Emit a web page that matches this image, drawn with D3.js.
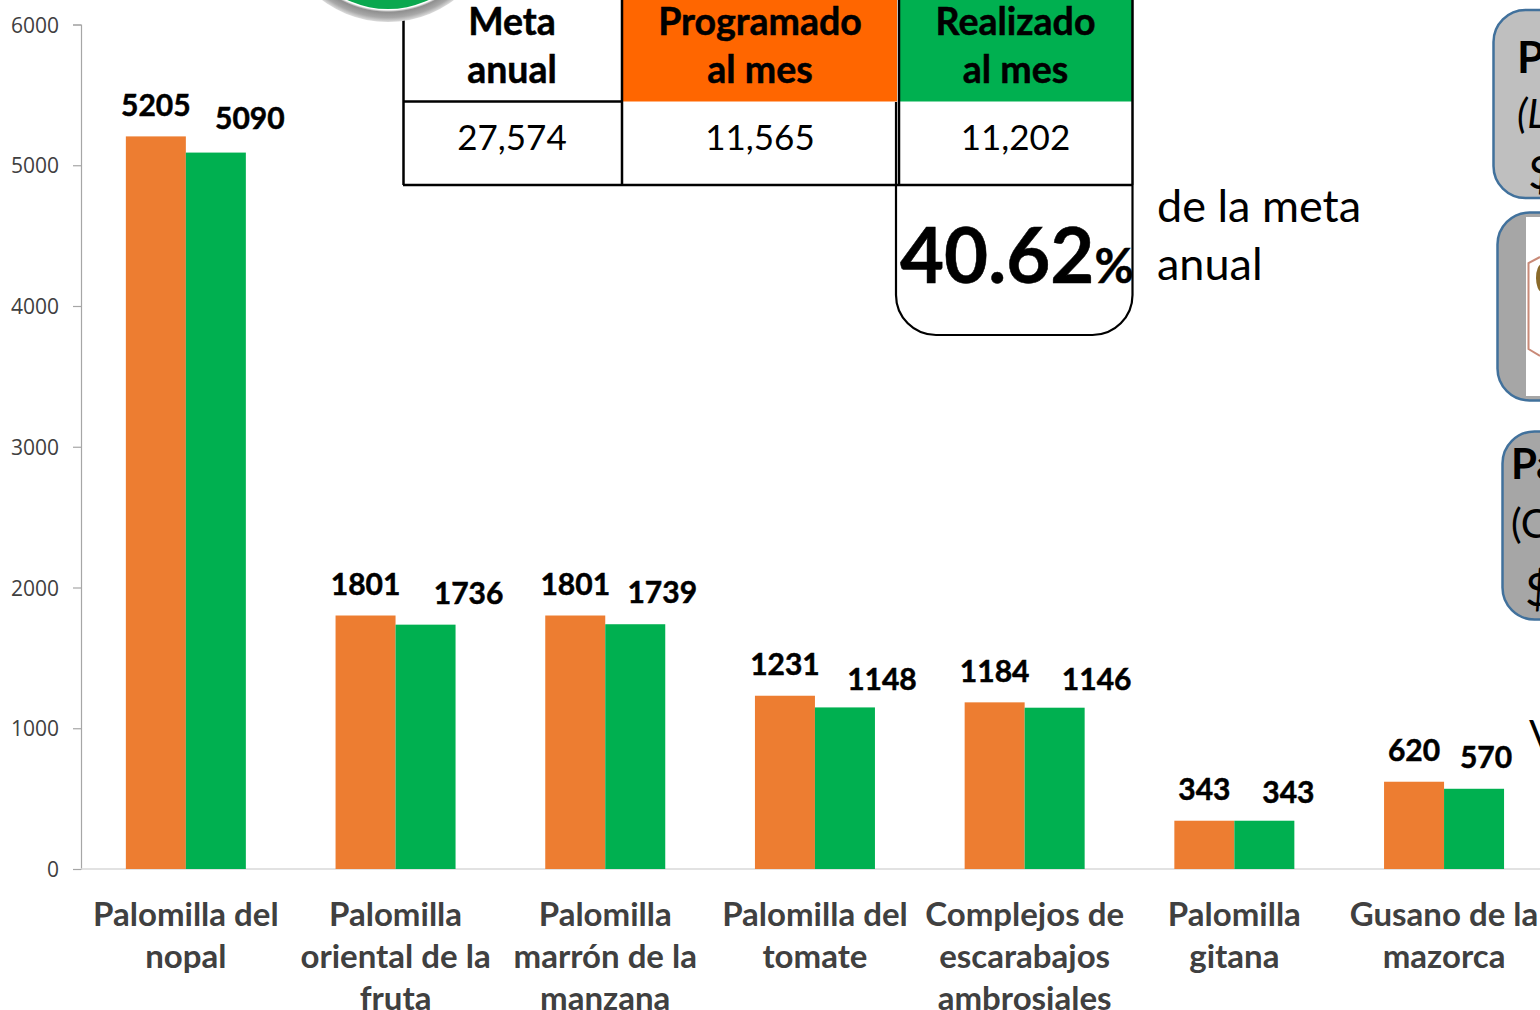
<!DOCTYPE html>
<html>
<head>
<meta charset="utf-8">
<style>
  html, body { margin: 0; padding: 0; background: #fff; overflow: hidden; }
  text { font-family: Lato, "Open Sans", sans-serif; }
  .heavy { stroke: currentColor; stroke-width: 0.5px; }
</style>
<script src="https://cdn.jsdelivr.net/npm/d3@7"></script>
</head>
<body>
<svg id="chart" width="1540" height="1010">
  <defs>
    <radialGradient id="ring" gradientUnits="userSpaceOnUse" cx="388" cy="-88" r="110">
      <stop offset="0.89" stop-color="#ffffff"></stop>
      <stop offset="0.91" stop-color="#8f8f8f"></stop>
      <stop offset="0.96" stop-color="#a8a8a8"></stop>
      <stop offset="1" stop-color="#dcdcdc"></stop>
    </radialGradient>
    <clipPath id="box1"><rect x="1493.5" y="10" width="120" height="188" rx="32"></rect></clipPath>
    <clipPath id="box3"><rect x="1502.5" y="431.5" width="120" height="188" rx="32"></rect></clipPath>
  </defs>
</svg>
<script>
const categories = [
  ["Palomilla del", "nopal"],
  ["Palomilla", "oriental de la", "fruta"],
  ["Palomilla", "marrón de la", "manzana"],
  ["Palomilla del", "tomate"],
  ["Complejos de", "escarabajos", "ambrosiales"],
  ["Palomilla", "gitana"],
  ["Gusano de la", "mazorca"]
];
const programado = [5205, 1801, 1801, 1231, 1184, 343, 620];
const realizado = [5090, 1736, 1739, 1148, 1146, 343, 570];
const yTicks = [0, 1000, 2000, 3000, 4000, 5000, 6000];

const tableHeaders = [["Meta", "anual"], ["Programado", "al mes"], ["Realizado", "al mes"]];
const tableValues = ["27,574", "11,565", "11,202"];

// hand placed in the original slide, relative to top of each green bar
const greenLabelDx = [34, 43, 27, 37, 42, 24, 12];
const greenLabelDy = [24, 21, 21, 17, 18, 18, 21];

const orange = "#ed7d31";
const green = "#00b050";

const svg = d3.select("#chart");

const x0 = d3.scaleBand()
  .domain(d3.range(categories.length))
  .range([81, 81 + 209.7 * categories.length]);
const x1 = d3.scaleBand()
  .domain(["programado", "realizado"])
  .range([x0.bandwidth() / 2 - 60, x0.bandwidth() / 2 + 60]);
const y = d3.scaleLinear().domain([0, 6000]).range([869, 24.5]);

// y axis
const yAxis = svg.append("g")
  .attr("transform", "translate(81,0)")
  .call(d3.axisLeft(y).tickValues(yTicks).tickFormat(d3.format("d")).tickSize(8).tickPadding(14));
yAxis.selectAll("line, path").attr("stroke", "#a6a6a6").attr("stroke-width", 1.2);
yAxis.selectAll("text")
  .attr("y", 1)
  .style("font-family", "'Open Sans', sans-serif")
  .style("font-size", "21px")
  .attr("fill", "#404040");

// baseline
svg.append("line")
  .attr("x1", 81).attr("x2", 1540)
  .attr("y1", y(0)).attr("y2", y(0))
  .attr("stroke", "#d9d9d9").attr("stroke-width", 1.5);

// bars
const groups = svg.selectAll(".group")
  .data(categories)
  .enter()
  .append("g")
  .attr("class", "group")
  .attr("transform", (d, i) => "translate(" + x0(i) + ",0)");

groups.append("rect")
  .attr("x", x1("programado"))
  .attr("width", x1.bandwidth())
  .attr("y", (d, i) => y(programado[i]))
  .attr("height", (d, i) => y(0) - y(programado[i]))
  .attr("fill", orange);

groups.append("rect")
  .attr("x", x1("realizado"))
  .attr("width", x1.bandwidth())
  .attr("y", (d, i) => y(realizado[i]))
  .attr("height", (d, i) => y(0) - y(realizado[i]))
  .attr("fill", green);

// value labels
groups.append("text")
  .attr("class", "heavy")
  .attr("x", x1("programado") + x1.bandwidth() / 2)
  .attr("y", (d, i) => y(programado[i]) - 20.5)
  .attr("text-anchor", "middle")
  .attr("font-size", 30)
  .attr("font-weight", 700)
  .style("color", "#000")
  .attr("fill", "#000")
  .text((d, i) => programado[i]);

groups.append("text")
  .attr("class", "heavy")
  .attr("x", (d, i) => x1("realizado") + x1.bandwidth() / 2 + greenLabelDx[i])
  .attr("y", (d, i) => y(realizado[i]) - greenLabelDy[i])
  .attr("text-anchor", "middle")
  .attr("font-size", 30)
  .attr("font-weight", 700)
  .style("color", "#000")
  .attr("fill", "#000")
  .text((d, i) => realizado[i]);

// category labels
groups.append("text")
  .attr("text-anchor", "middle")
  .attr("font-size", 33)
  .attr("font-weight", 700)
  .attr("fill", "#404040")
  .each(function(d) {
    d3.select(this).selectAll("tspan")
      .data(d)
      .enter()
      .append("tspan")
      .attr("x", x0.bandwidth() / 2)
      .attr("y", (line, j) => 926 + j * 42)
      .text(line => line);
  });

// table
const headFill = [null, "#ff6600", green];
const table = svg.append("g");

table.append("rect")
  .attr("x", 622).attr("y", 0).attr("width", 275).attr("height", 101.5)
  .attr("fill", headFill[1]);
table.append("rect")
  .attr("x", 899).attr("y", 0).attr("width", 233).attr("height", 101.5)
  .attr("fill", headFill[2]);

table.append("path")
  .attr("d", "M403.5 0V185M622 0V185M899 0V185M1132.5 0V185M403 101.5H622M403 185H1133")
  .attr("fill", "none").attr("stroke", "#000").attr("stroke-width", 2.5);

// rounded box under the last column, its left side runs up the data row
table.append("path")
  .attr("d", "M896 102V295A40 40 0 0 0 936 335H1092.5A40 40 0 0 0 1132.5 295V185")
  .attr("fill", "none").attr("stroke", "#000").attr("stroke-width", 2.2);

const colCentres = [512, 760, 1015.5];
tableHeaders.forEach(function(lines, i) {
  lines.forEach(function(line, j) {
    table.append("text")
      .attr("class", "heavy")
      .attr("x", colCentres[i]).attr("y", 35 + j * 48)
      .attr("text-anchor", "middle")
      .attr("font-size", 37.5)
      .attr("font-weight", 700)
      .style("color", "#000")
      .attr("fill", "#000")
      .text(line);
  });
  table.append("text")
    .attr("x", colCentres[i]).attr("y", 150)
    .attr("text-anchor", "middle")
    .attr("font-size", 35)
    .attr("fill", "#000")
    .text(tableValues[i]);
});

const pct = table.append("text")
  .attr("class", "heavy")
  .attr("x", 900).attr("y", 283)
  .attr("font-weight", 700)
  .style("color", "#000")
  .attr("fill", "#000");
pct.append("tspan").attr("font-size", 76).text("40.62");
pct.append("tspan").attr("font-size", 48).text("%");

["de la meta", "anual"].forEach(function(line, j) {
  table.append("text")
    .attr("x", 1157).attr("y", 222 + j * 58)
    .attr("font-size", 45)
    .attr("fill", "#000")
    .text(line);
});

// gauge cut off by the top of the slide, sits over the table corner
svg.append("circle").attr("cx", 388).attr("cy", -88).attr("r", 110).attr("fill", "url(#ring)");
svg.append("circle").attr("cx", 388).attr("cy", -88).attr("r", 97).attr("fill", "#0aa84f");

// boxes cut off at the right edge
const side = svg.append("g");
function sideBox(left, top, fill) {
  side.append("rect")
    .attr("x", left).attr("y", top)
    .attr("width", 120).attr("height", 188)
    .attr("rx", 32)
    .attr("fill", fill)
    .attr("stroke", "#41719c").attr("stroke-width", 2.5);
}
sideBox(1493.5, 10, "#bfbfbf");
sideBox(1497.5, 212.5, "#a6a6a6");
sideBox(1502.5, 431.5, "#a6a6a6");

// picture inside the second box
side.append("rect").attr("x", 1526).attr("y", 217).attr("width", 14).attr("height", 179).attr("fill", "#fff");
side.append("path")
  .attr("d", "M1540 257L1528.5 263V349L1540 356")
  .attr("fill", "none").attr("stroke", "#c98a78").attr("stroke-width", 2);
side.append("ellipse").attr("cx", 1542).attr("cy", 278).attr("rx", 6).attr("ry", 14).attr("fill", "#8a6a2a");

function sideText(str, xp, yp, size, weight, fontStyle, clip) {
  side.append("text")
    .attr("x", xp).attr("y", yp)
    .attr("font-size", size)
    .attr("font-weight", weight)
    .attr("font-style", fontStyle)
    .attr("clip-path", clip ? "url(#" + clip + ")" : null)
    .attr("fill", "#000")
    .text(str);
}
sideText("P", 1517, 73, 44, 700, "normal");
sideText("(L", 1517, 128, 40, 400, "italic");
sideText("$", 1528, 189, 46, 400, "normal", "box1");
sideText("Pa", 1511, 479, 42, 700, "normal");
sideText("(C", 1511, 538, 40, 400, "normal");
sideText("$", 1525, 606, 46, 400, "normal", "box3");
sideText("V", 1529, 749, 40, 400, "normal");
</script>
</body>
</html>
